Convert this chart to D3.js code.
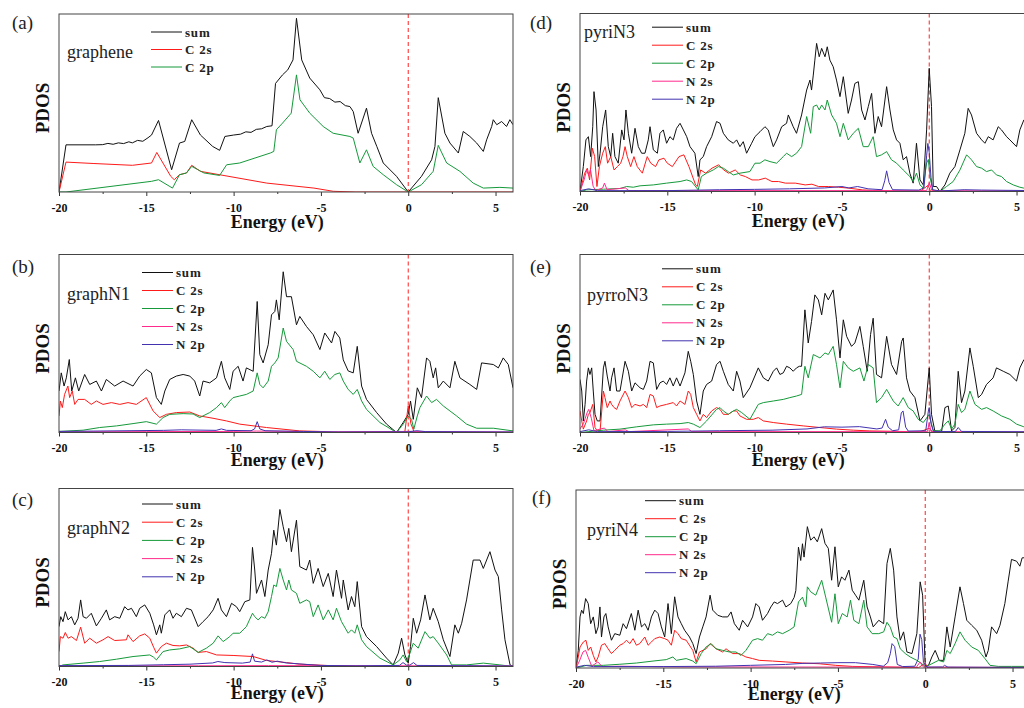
<!DOCTYPE html>
<html>
<head>
<meta charset="utf-8">
<script src="https://cdn.jsdelivr.net/npm/d3@7"></script>
<style>
  body { margin: 0; background: #fff; }
  svg { display: block; }
  text { font-family: "Liberation Serif", "Times New Roman", serif; }
</style>
</head>
<body>
<script>
// energy axis
var energyTicks = [-20, -15, -10, -5, 0, 5];
var minorTicks = [-17.5, -12.5, -7.5, -2.5, 2.5];
var seriesNames = ["sum", "C 2s", "C 2p", "N 2s", "N 2p"];
var seriesColors = ["#111111", "#ff1a1a", "#15993a", "#ff2a8c", "#4232b0"];

// (a) graphene  [energy eV, PDOS in % of panel height]
var aSum = [[-20,0],[-19.6,26.5],[-17.9,26.5],[-17.5,26.6],[-17.2,27.3],[-16.9,26.8],[-16.6,27.6],[-16.3,27.2],[-16.0,28.2],[-15.8,27.6],[-15.5,29],[-15.2,28.5],[-14.9,30.5],[-14.7,32],[-14.3,40.2],[-13.55,12.5],[-13.1,27.5],[-12.8,28.4],[-12.4,40.6],[-11.9,32],[-11.2,25.6],[-10.8,23.4],[-10.5,31.2],[-10.0,32],[-9.6,32.5],[-9.3,33.8],[-9.0,33.5],[-8.7,35.2],[-8.4,35.5],[-8.1,36.8],[-7.8,37.2],[-7.6,61],[-7.2,65.8],[-6.9,68.6],[-6.6,74.2],[-6.4,97.6],[-6.1,74.2],[-5.64,64],[-5.06,57.4],[-4.8,53],[-4.5,52.5],[-4.2,50.5],[-3.9,50.8],[-3.6,48.5],[-3.34,48],[-3.15,45.2],[-2.87,33],[-2.39,47.1],[-2.1,33],[-1.8,25.6],[-1.43,16.3],[-0.67,8.8],[0,0],[0.76,8.8],[1.34,18.1],[1.53,25.6],[1.72,53],[2.1,33],[2.39,27.5],[2.87,21.9],[3.15,34],[3.53,31.2],[3.92,27.5],[4.3,22.8],[4.49,29.3],[4.78,36.8],[4.87,40.6],[5.07,37.8],[5.35,39.6],[5.63,36.8],[5.82,40.6],[6,37.8]];
var aC2s = [[-20,0],[-19.6,16.8],[-18,16],[-15.8,15],[-14.7,16.3],[-14.4,22.2],[-13.6,8.8],[-13.4,6.9],[-13.1,9.7],[-12.7,10.7],[-12.4,15],[-11.9,11.6],[-8.1,5],[-5.4,2.2],[-4.3,0.4],[-3,0],[6,0]];
var aC2p = [[-20,0],[-19.6,0],[-14.7,6],[-14.3,6.9],[-13.5,2.2],[-13.1,9.7],[-12.7,10.7],[-12.4,14.4],[-11.7,10.7],[-10.8,9.3],[-10.4,15.3],[-9.65,16.3],[-7.9,21.9],[-7.7,22.8],[-7.55,35],[-7.2,38.7],[-6.7,44.3],[-6.4,65.8],[-6.2,51.8],[-5.64,44.3],[-4.87,36.8],[-4.3,33],[-3.34,31.2],[-3.15,30.3],[-2.77,16.3],[-2.39,23.7],[-2.01,14.4],[-1.43,9.7],[-0.67,4.1],[0,0],[0.76,4.1],[1.43,11.6],[1.72,26.2],[2.2,16.3],[2.96,11.6],[3.72,5],[4.3,2.2],[5.25,2.6],[6,2.2]];

// (b) graphN1
var bSum = [[-20,23.3],[-19.87,33.5],[-19.71,26.1],[-19.58,30.7],[-19.41,41],[-19.27,23.3],[-19.06,30.7],[-18.87,23.3],[-18.53,32.6],[-18.24,27],[-17.86,28.9],[-17.57,23.3],[-17.29,29.8],[-16.81,26.1],[-16.33,28.9],[-15.76,26.1],[-15.38,31.7],[-15,35.4],[-14.71,33.5],[-14.42,19.6],[-14.14,15.8],[-13.94,23.3],[-13.66,29.8],[-13.28,31.7],[-12.89,32.6],[-12.51,31.7],[-12.23,28.9],[-11.94,20.5],[-11.75,28.9],[-11.37,27.9],[-10.98,30.7],[-10.7,40],[-10.51,30.7],[-10.22,24.2],[-10.03,34.4],[-9.74,37.2],[-9.46,28.9],[-9.27,36.3],[-8.88,34.4],[-8.65,73.6],[-8.5,43.8],[-8.31,39.1],[-8.02,49.3],[-7.83,66.1],[-7.64,68],[-7.55,74.5],[-7.39,63.3],[-7.16,90.3],[-6.97,76.3],[-6.69,76.3],[-6.4,60.5],[-6.21,65.2],[-5.83,59.6],[-5.44,54.9],[-5.06,46.6],[-4.78,55.9],[-4.39,50.3],[-4.2,56.8],[-3.92,53.1],[-3.72,40.8],[-3.44,34.6],[-3.15,33.5],[-2.92,48.4],[-2.67,26.1],[-2.39,18.6],[-1.81,11.2],[-1.24,4.7],[-0.67,0],[-0.29,5.6],[0,10.2],[0.13,17.7],[0.29,7.4],[0.52,25.1],[0.76,19.6],[1.05,41.9],[1.24,40],[1.43,30.7],[1.57,36.3],[1.72,25.1],[2.01,28.9],[2.39,25.1],[2.67,40],[2.96,30.7],[3.53,27],[3.92,24.2],[4.2,39.1],[4.87,38.2],[5.16,36.3],[5.44,41.9],[5.73,38.2],[6,25.1]];
var bC2s = [[-20,9.3],[-19.92,17.7],[-19.81,14],[-19.68,21.4],[-19.49,26.1],[-19.39,19.6],[-19.24,23.3],[-19.1,15.8],[-18.91,18.6],[-18.53,18.6],[-18.15,15.8],[-17.86,17.7],[-17.48,15.8],[-17,16.8],[-16.52,15.8],[-16.05,16.8],[-15.57,15.8],[-15,19.6],[-14.61,12.1],[-14.23,8.4],[-13.85,10.2],[-13.28,11.2],[-12.51,11.5],[-11.94,9.3],[-11.18,8],[-10.41,6.5],[-9.65,4.7],[-8.12,2.8],[-6.21,0.9],[-5.06,0.6],[-4.3,0],[-0.2,0],[0,15],[0.15,5],[0.35,0],[6,0]];
var bC2p = [[-20,0.6],[-18.62,1.3],[-17.67,2.8],[-16.71,3.7],[-15.76,5],[-15,6.1],[-14.42,4.7],[-14.04,8.4],[-13.66,10.2],[-12.89,10.6],[-12.32,10.4],[-11.94,8.4],[-11.37,11.2],[-10.98,14],[-10.7,16.8],[-10.51,14],[-10.22,17.7],[-10.03,19.6],[-9.65,20.5],[-9.27,21.4],[-8.88,23.3],[-8.65,33.5],[-8.5,27],[-8.31,25.1],[-8.02,28.9],[-7.83,37.2],[-7.64,39.1],[-7.45,41.9],[-7.16,58.7],[-6.97,51.2],[-6.59,46.6],[-6.4,40],[-5.83,37.2],[-5.44,34.4],[-5.06,30.7],[-4.78,34.4],[-4.49,29.8],[-4.2,32.6],[-3.92,33.5],[-3.72,28.9],[-3.44,24.2],[-3.15,21.4],[-2.92,24.2],[-2.67,17.7],[-2.39,13],[-1.62,5.6],[-0.67,0],[-0.29,4.7],[0,9.3],[0.19,7.4],[0.32,1.9],[0.52,9.3],[0.67,14],[1.05,20.5],[1.34,16.8],[1.62,18.6],[2.01,14.9],[2.39,12.1],[2.77,9.3],[3.34,4.7],[3.92,2.4],[4.87,2.4],[6,0.9]];
var bN2s = [[-20,0.4],[-15,0.5],[-10,0.6],[-8.7,0.8],[-5,0.4],[0,0.6],[6,0.3]];
var bN2p = [[-20,0.6],[-18,0.8],[-14,1.2],[-13,1.5],[-11,1.2],[-10.7,2],[-10.4,1.2],[-9,1],[-8.8,2],[-8.65,6.1],[-8.5,2],[-8.2,1],[-6,0.6],[-4,0.3],[0,0.4],[0.5,1],[1,0.5],[6,0.3]];

// (c) graphN2
var cSum = [[-20,22.4],[-19.9,28],[-19.77,25.2],[-19.64,30.8],[-19.48,26.2],[-19.29,28],[-19.1,23.4],[-18.91,27.1],[-18.76,37.4],[-18.62,28],[-18.43,27.1],[-18.15,29.9],[-17.86,22.8],[-17.57,27.1],[-17.29,31.8],[-17.1,26.2],[-16.81,28],[-16.52,27.1],[-16.24,33.6],[-16.05,31.8],[-15.85,32.7],[-15.57,28],[-15.38,32.7],[-15.09,34.6],[-14.8,29.9],[-14.58,23.4],[-14.42,17.8],[-14.23,23.4],[-14.14,18.7],[-13.94,29],[-13.66,31.8],[-13.47,27.1],[-13.28,29.9],[-12.99,28],[-12.7,32.7],[-12.42,31.8],[-12.03,22.4],[-11.75,25.2],[-11.46,28],[-11.17,31.8],[-10.89,38.3],[-10.7,31.8],[-10.41,28],[-10.12,35.5],[-9.84,33.6],[-9.65,30.8],[-9.36,36.4],[-9.07,37.4],[-8.92,66.9],[-8.79,54.2],[-8.69,41.1],[-8.4,48.6],[-8.21,39.3],[-8.02,54.2],[-7.83,63.6],[-7.7,76.6],[-7.55,68.2],[-7.35,88.2],[-7.16,78.5],[-6.97,70.1],[-6.84,77.6],[-6.69,64.5],[-6.4,82.2],[-6.21,56.1],[-5.83,54.2],[-5.64,59.8],[-5.44,46.7],[-5.16,55.1],[-4.87,44.9],[-4.58,52.3],[-4.3,39.3],[-4.11,54.2],[-3.82,38.3],[-3.72,48.6],[-3.44,31.8],[-3.25,39.3],[-3.06,33.6],[-2.92,47.7],[-2.67,22.4],[-2.39,16.8],[-1.81,11.2],[-1.24,4.7],[-0.86,0.9],[-0.57,7.5],[-0.38,15.9],[-0.19,6.5],[0,1.9],[0.13,11.2],[0.29,27.1],[0.48,18.7],[0.71,26.2],[0.96,40.2],[1.24,26.2],[1.43,32.7],[1.72,25.2],[2.01,15],[2.39,5.6],[2.67,23.4],[2.87,18.7],[3.06,24.3],[3.34,37.4],[3.72,59.8],[4.11,59.8],[4.3,55.1],[4.68,64.5],[4.97,54.2],[5.16,50.5],[5.35,31.8],[5.54,15],[5.83,0.9],[6,0]];
var cC2s = [[-20,8.4],[-19.92,16.8],[-19.77,15.9],[-19.64,19.1],[-19.48,15.9],[-19.29,16.8],[-19,14.6],[-18.76,22.1],[-18.53,13.1],[-18.24,15.9],[-17.86,13.1],[-17.48,15],[-17.19,16.8],[-16.81,14.6],[-16.14,15],[-16.05,17.8],[-15.76,14],[-15.38,17.2],[-15.09,18.3],[-14.8,15.9],[-14.58,10.8],[-14.42,7.5],[-14.14,11.2],[-13.85,13.1],[-13.47,11.8],[-13.09,11.6],[-12.7,12.1],[-12.32,10.3],[-12.03,7.9],[-11.56,8.4],[-10.98,6.5],[-10.03,6.2],[-8.88,5.6],[-8.12,3.4],[-6.97,2.2],[-6.21,1.3],[-4.3,0.4],[-2.39,0],[6,0]];
var cC2p = [[-20,0],[-19.77,0.9],[-18.62,1.9],[-17.67,2.8],[-16.71,4.1],[-15.76,5.6],[-14.8,6.5],[-14.58,5.2],[-14.42,3.7],[-14.04,8.4],[-13.66,9.3],[-13.09,9.9],[-12.51,11.2],[-12.03,7.9],[-11.56,10.3],[-11.17,13.1],[-10.89,17.2],[-10.6,14],[-10.22,16.8],[-10.03,18.7],[-9.65,18.7],[-9.27,22.4],[-8.92,29.9],[-8.79,28],[-8.6,26.2],[-8.4,28],[-8.21,27.1],[-8.02,30.8],[-7.83,39.3],[-7.7,45.8],[-7.55,44.9],[-7.35,55.1],[-7.16,48.6],[-6.97,43],[-6.84,48.6],[-6.69,43],[-6.4,41.1],[-6.21,35.5],[-5.83,37.4],[-5.64,36.4],[-5.44,28],[-5.16,34.6],[-4.87,26.2],[-4.58,31.8],[-4.3,26.2],[-4.11,32.7],[-3.82,25.2],[-3.44,18.7],[-3.25,20.6],[-3.06,18.7],[-2.92,23.4],[-2.67,15],[-2.39,11.2],[-1.62,4.7],[-0.86,0.9],[-0.48,3.7],[-0.29,6.5],[-0.1,2.8],[0.1,7.5],[0.29,13.1],[0.57,10.3],[0.96,19.6],[1.24,15.9],[1.43,16.8],[1.72,13.1],[2.2,6.5],[2.48,0.9],[3.34,0.9],[4.3,1.9],[5.25,0.9],[6,0]];
var cN2s = [[-20,0.3],[-12,0.4],[-8,0.5],[0,0.4],[6,0.3]];
var cN2p = [[-20,0.5],[-16,0.6],[-14,1],[-12.5,1.3],[-11.2,2],[-10.9,2.8],[-10.5,2.2],[-9.5,1.9],[-9.05,2.5],[-8.92,7.1],[-8.8,3],[-8.4,2.5],[-8.1,3.7],[-7.8,2.4],[-7.5,3],[-7,2],[-5,0.6],[-3,0.4],[-0.5,0.6],[-0.3,2.2],[-0.1,0.8],[0.1,0.8],[0.3,2.2],[0.5,0.6],[6,0.3]];

// (d) pyriN3
var dSum = [[-20,0],[-19.81,14],[-19.66,29],[-19.52,30.8],[-19.39,19.6],[-19.27,36.4],[-19.2,56.1],[-19.08,45.8],[-18.95,14],[-18.85,21.5],[-18.7,36.4],[-18.53,45.8],[-18.38,25.2],[-18.24,19.6],[-18.13,32.7],[-18,19.6],[-17.81,15.9],[-17.61,34.6],[-17.48,29],[-17.37,45.8],[-17.23,32.7],[-17.04,21.5],[-16.85,35.5],[-16.66,25.2],[-16.47,21.5],[-16.28,21.5],[-16.09,29],[-15.99,36.4],[-15.8,23.4],[-15.57,21.5],[-15.42,32.7],[-15.23,34.6],[-15.04,27.1],[-14.85,30.8],[-14.66,29],[-14.47,35.5],[-14.27,38.3],[-14.08,34.6],[-13.89,30.8],[-13.7,25.2],[-13.42,21.5],[-13.23,8.4],[-13.13,17.8],[-12.94,19.6],[-12.75,25.2],[-12.46,30.8],[-12.18,39.3],[-11.98,38.3],[-11.79,32.7],[-11.51,29],[-11.22,27.1],[-11.03,29],[-10.84,25.2],[-10.65,28],[-10.46,21.5],[-10.17,27.1],[-9.98,30.8],[-9.69,33.6],[-9.41,36.4],[-9.22,34.6],[-8.93,25.2],[-8.74,29],[-8.45,36.4],[-8.17,38.3],[-8.07,43],[-7.79,36.4],[-7.6,32.7],[-7.31,43],[-7.02,57],[-6.83,62.6],[-6.74,57],[-6.64,65.4],[-6.55,73.8],[-6.45,83.2],[-6.3,75.7],[-6.16,80.4],[-5.97,75.7],[-5.84,81.3],[-5.69,73.8],[-5.5,70.1],[-5.31,62.6],[-5.11,53.3],[-4.92,64.5],[-4.64,43.9],[-4.45,51.4],[-4.26,60.7],[-4.06,61.7],[-3.87,45.8],[-3.68,40.2],[-3.49,47.7],[-3.3,55.1],[-3.11,32.7],[-2.92,42.1],[-2.73,36.4],[-2.44,58.9],[-2.25,45.8],[-2.06,34.6],[-1.87,29],[-1.68,27.1],[-1.49,17.8],[-1.3,19.6],[-1.11,10.3],[-0.92,4.7],[-0.73,27.1],[-0.53,6.5],[-0.34,3.7],[-0.15,34.6],[0,69.2],[0.13,47.7],[0.23,2.8],[0.42,2.8],[0.61,0],[0.9,3.7],[1.18,10.3],[1.47,14],[1.76,23.4],[2.04,32.7],[2.23,46.7],[2.42,43],[2.71,32.7],[3,29],[3.19,27.1],[3.38,30.8],[3.66,29],[3.95,36.4],[4.14,34.6],[4.43,30.8],[4.62,29],[5,25.2],[5.19,34.6],[5.42,40.2],[5.7,41],[6,38]];
var dC2s = [[-20,0],[-19.73,10.3],[-19.58,13.1],[-19.45,6.5],[-19.29,24.3],[-19.16,19.6],[-19.03,2.8],[-18.89,14],[-18.7,21.5],[-18.55,25.2],[-18.42,15.9],[-18.24,19.6],[-18.05,12.1],[-17.86,14],[-17.67,15.9],[-17.54,19.6],[-17.42,25.2],[-17.29,19.6],[-17.1,14],[-16.91,19.6],[-16.72,14],[-16.43,10.3],[-16.15,19.6],[-15.95,15.9],[-15.67,14],[-15.48,17.8],[-15.19,18.7],[-15,15.9],[-14.71,14],[-14.33,19.6],[-14.05,20.6],[-13.76,14],[-13.38,3.7],[-13.28,2.8],[-13.09,12.1],[-12.81,10.3],[-12.44,13.1],[-12.06,15],[-11.77,12.1],[-11.49,10.3],[-11.11,12.1],[-10.82,9.3],[-10.53,8.4],[-10.15,6.5],[-9.77,6.5],[-9.39,7.5],[-9.01,5.6],[-8.63,5.6],[-8.24,4.7],[-7.67,4.7],[-7.1,3.7],[-6.72,4.1],[-6.34,2.8],[-5.76,2.8],[-5.19,2.4],[-4.62,1.9],[-3.82,0.9],[-3.24,0.6],[-2.48,0.4],[-0.53,0],[-0.06,3.5],[0.08,0],[6,0]];
var dC2p = [[-20,0],[-19.62,0.9],[-18.66,1.3],[-17.71,1.7],[-17.33,2.8],[-16.95,2.4],[-16.56,3.2],[-15.8,3.7],[-15.04,4.7],[-14.27,5.6],[-13.89,6.5],[-13.61,5.6],[-13.23,0.9],[-13.05,8.4],[-12.75,10.3],[-12.37,12.1],[-12.08,14],[-11.79,13.1],[-11.51,11.2],[-11.22,9.3],[-10.84,10.3],[-10.27,11.2],[-9.98,15.9],[-9.69,15.9],[-9.41,17.8],[-9.12,16.8],[-8.74,15.9],[-8.36,19.6],[-8.17,21.5],[-7.88,19.6],[-7.6,21.5],[-7.31,25.2],[-7.02,42.1],[-6.79,32.7],[-6.64,47.7],[-6.45,48.6],[-6.3,45.8],[-6.16,48.6],[-5.97,45.8],[-5.84,51.4],[-5.59,43],[-5.31,38.3],[-5.11,30.8],[-4.92,38.3],[-4.64,29],[-4.35,32.7],[-4.06,35.5],[-3.78,25.2],[-3.49,25.2],[-3.21,30.8],[-3.02,19.6],[-2.73,20.6],[-2.44,22.4],[-2.16,17.8],[-1.87,15.9],[-1.49,12.1],[-1.11,8.4],[-0.92,5.6],[-0.73,10.3],[-0.53,3.7],[-0.35,2],[-0.15,16],[-0.05,18],[0.05,8],[0.2,0.6],[0.61,0],[0.99,2.8],[1.37,5.6],[1.76,12.1],[2.14,20.6],[2.42,17.8],[2.71,14],[3,13.1],[3.28,11.2],[3.57,12.1],[3.85,9.3],[4.14,8.4],[4.43,5.6],[4.81,3.7],[5.19,2.4],[5.42,1.9],[6,1.9]];
var dN2s = [[-20,0],[-19.75,7],[-19.62,12],[-19.5,9],[-19.4,12.5],[-19.25,3],[-19.1,0.5],[-18.7,2],[-18.6,4.7],[-18.45,1],[-17.4,2],[-17.2,0.5],[-0.15,0.5],[0,5],[0.15,0.5],[6,0.3]];
var dN2p = [[-20,0.5],[-19.5,1.5],[-19,0.5],[-15,0.5],[-12,1],[-10,1.2],[-8,1.5],[-6,2],[-5,2.8],[-4.6,2],[-4.1,2.8],[-3.5,1.5],[-2.7,1],[-2.55,6],[-2.44,11.6],[-2.3,5],[-2.1,1],[-0.6,0.8],[-0.3,2],[-0.15,20],[-0.08,27],[0,22],[0.1,8],[0.2,1],[0.6,0.3],[2,1],[3,0.8],[6,0.5]];

// (e) pyrroN3
var eSum = [[-20,29.8],[-19.9,23.3],[-19.81,6.5],[-19.71,15.8],[-19.62,28.9],[-19.52,36.3],[-19.43,32.6],[-19.33,36.3],[-19.24,23.3],[-19.14,10.2],[-19.01,6.5],[-18.85,6.5],[-18.66,36.3],[-18.57,40],[-18.44,31.7],[-18.28,23.3],[-18.19,30.7],[-18.05,36.3],[-17.9,23.3],[-17.71,23.3],[-17.42,40],[-17.23,34.4],[-17.04,23.3],[-16.85,27.9],[-16.56,25.1],[-16.37,24.2],[-16.18,28.9],[-15.99,40],[-15.8,39.1],[-15.61,24.2],[-15.42,27.9],[-15.23,28.9],[-15.04,27],[-14.85,30.7],[-14.66,26.1],[-14.47,30.7],[-14.27,26.1],[-13.99,33.5],[-13.8,45.6],[-13.66,40],[-13.51,32.6],[-13.32,17.7],[-13.13,10.2],[-12.94,23.3],[-12.75,27],[-12.46,28.9],[-12.18,38.2],[-11.98,40],[-11.79,34.4],[-11.51,27],[-11.22,23.3],[-11.03,34.4],[-10.84,28.9],[-10.65,19.6],[-10.27,25.1],[-9.79,36.3],[-9.5,30.7],[-9.22,28.9],[-8.93,34.4],[-8.74,36.3],[-8.55,32.6],[-8.36,33.5],[-8.17,37.2],[-7.98,36.3],[-7.79,34.4],[-7.6,36.3],[-7.44,37.2],[-7.31,37.2],[-7.12,68.9],[-6.93,50.3],[-6.74,62.4],[-6.55,77.3],[-6.35,74.5],[-6.16,66.1],[-5.97,78.2],[-5.78,74.5],[-5.5,80.1],[-5.31,63.3],[-5.11,41.9],[-4.92,63.3],[-4.73,54],[-4.45,48.4],[-4.26,50.3],[-3.97,59.6],[-3.78,48.4],[-3.55,34.4],[-3.36,55],[-3.21,64.2],[-3.02,32.6],[-2.73,30.7],[-2.44,54],[-2.16,38.2],[-1.87,32.6],[-1.58,51.2],[-1.49,53.1],[-1.3,30.7],[-1.11,23.3],[-0.82,19.6],[-0.53,6.5],[-0.25,10.2],[0,36.3],[0.13,10.2],[0.32,0.9],[0.71,0.6],[0.9,14],[1.09,14.9],[1.28,0.9],[1.47,2.8],[1.66,34.4],[1.85,16.8],[2.04,23.3],[2.33,47.5],[2.52,37.2],[2.81,19.6],[3,21.4],[3.28,27],[3.66,30.7],[3.85,36.3],[4.24,34.4],[4.62,32.6],[5,28.9],[5.19,36.3],[5.42,40.9],[5.7,42],[6,38]];
var eC2s = [[-20,12.1],[-19.9,6.5],[-19.81,1.9],[-19.62,6.5],[-19.52,10.2],[-19.43,11.2],[-19.27,15.8],[-19.14,2.8],[-19.01,0.9],[-18.85,0.9],[-18.66,23.3],[-18.57,19.6],[-18.44,14],[-18.28,17.7],[-18.19,15.8],[-18.05,14],[-17.9,13],[-17.71,17.7],[-17.42,23.3],[-17.23,19.6],[-17.04,14],[-16.85,15.8],[-16.56,14.9],[-16.37,15.8],[-16.18,14],[-15.99,21.4],[-15.8,20.5],[-15.61,14],[-15.42,14.9],[-15.04,15.8],[-14.66,16.8],[-14.47,14.9],[-14.27,17.7],[-13.99,15.8],[-13.8,23.3],[-13.66,21.4],[-13.51,14],[-13.32,10.2],[-13.13,6.5],[-12.94,10.2],[-12.75,8.4],[-12.46,12.1],[-12.18,14],[-11.98,13],[-11.79,10.2],[-11.51,10.2],[-11.22,12.1],[-11.03,12.1],[-10.84,9.3],[-10.46,7.4],[-10.08,7.4],[-9.79,8.4],[-9.5,6.5],[-8.93,5.6],[-8.17,4.7],[-7.21,3.7],[-6.26,2.8],[-5.31,1.9],[-4.35,1.3],[-3.4,0.9],[-0.53,0.4],[0,2.4],[0.23,0],[6,0]];
var eC2p = [[-20,0],[-18.66,1.3],[-17.71,1.9],[-16.75,3.2],[-15.8,4.3],[-15.04,4.7],[-14.27,5],[-13.8,5.6],[-13.51,4.7],[-13.13,2.8],[-12.75,6.5],[-12.18,13],[-11.98,14],[-11.79,12.1],[-11.51,10.2],[-11.22,12.1],[-11.03,13],[-10.74,11.2],[-10.27,7.4],[-9.79,15.8],[-9.5,16.8],[-8.93,17.7],[-8.36,18.6],[-7.98,19.6],[-7.6,20.5],[-7.31,21.4],[-7.12,37.2],[-6.93,30.7],[-6.64,43.8],[-6.26,41.9],[-5.97,44.7],[-5.78,43.8],[-5.5,48.4],[-5.31,38.2],[-5.11,25.1],[-4.92,40],[-4.64,36.3],[-4.35,34.4],[-3.97,36.3],[-3.74,28.9],[-3.49,38.2],[-3.21,36.3],[-3.02,16.8],[-2.73,19.6],[-2.44,24.2],[-2.06,17.7],[-1.78,14.9],[-1.49,19.6],[-1.2,14],[-0.92,12.1],[-0.63,7.4],[-0.34,5.6],[0,10.2],[0.23,0.9],[0.61,0.9],[0.9,4.7],[1.09,6.5],[1.28,1.9],[1.47,4.7],[1.66,15.8],[1.85,11.2],[2.04,13],[2.33,23.3],[2.62,15.8],[3,13],[3.28,14],[3.66,12.1],[4.14,9.3],[4.62,7.4],[5,4.7],[5.42,3.2],[6,2.5]];
var eN2s = [[-20,2],[-19.8,5],[-19.6,11],[-19.5,13],[-19.35,8],[-19.2,1],[-18.6,2.5],[-18.4,0.5],[-17.4,1.5],[-17.2,0.5],[-13.8,2],[-13.6,0.5],[-0.1,0.5],[0,5.6],[0.1,0.5],[6,0.3]];
var eN2p = [[-20,0.5],[-19.5,1.5],[-19,0.5],[-15,0.6],[-12,1],[-9,1.3],[-7,2],[-6,3.2],[-5,3],[-4,3.3],[-3,2],[-2.7,2.5],[-2.5,7.4],[-2.35,3],[-2.1,1],[-1.75,1.5],[-1.6,11],[-1.5,12.1],[-1.35,3],[-1.2,0.8],[-0.2,1],[-0.05,12],[0,14],[0.1,5],[0.25,0.5],[1.5,0.6],[1.66,2.8],[1.85,0.6],[6,0.4]];

// (f) pyriN4
var fSum = [[-20,0],[-19.87,9.9],[-19.77,28.7],[-19.68,32.5],[-19.58,30.6],[-19.45,39],[-19.3,36.2],[-19.16,24.9],[-19.01,28.7],[-18.86,19.3],[-18.73,23.1],[-18.63,34.3],[-18.54,17.4],[-18.4,28.7],[-18.29,30.6],[-18.16,23.1],[-17.97,15.6],[-17.78,19.3],[-17.49,18.4],[-17.3,24.9],[-17.11,22.1],[-16.83,30.6],[-16.63,21.2],[-16.44,32.5],[-16.25,23.1],[-16.06,24.9],[-15.87,21.2],[-15.68,28.7],[-15.49,32.5],[-15.3,30.6],[-15.11,23.1],[-14.92,17.4],[-14.73,36.2],[-14.54,19.3],[-14.35,40],[-14.16,28.7],[-13.97,24.9],[-13.78,21.2],[-13.5,17.4],[-13.31,13.7],[-13.12,8.1],[-12.93,17.4],[-12.74,23.1],[-12.55,28.7],[-12.32,40.9],[-12.17,32.5],[-11.88,29.6],[-11.6,28.7],[-11.31,28.7],[-11.12,31.5],[-10.93,24.9],[-10.65,21.2],[-10.46,26.8],[-10.17,23.1],[-9.89,28.7],[-9.7,36.2],[-9.51,34.3],[-9.32,26.8],[-9.03,30.6],[-8.84,34.3],[-8.65,37.1],[-8.46,36.2],[-8.17,38.1],[-7.98,34.3],[-7.7,36.2],[-7.51,39.6],[-7.41,43.5],[-7.26,67.9],[-7.13,60.4],[-7.03,69.8],[-6.94,62.3],[-6.75,79.4],[-6.56,71.8],[-6.37,73.7],[-6.18,70.9],[-5.93,78.3],[-5.74,70],[-5.55,67.2],[-5.36,49.3],[-5.17,68.1],[-4.98,45.6],[-4.79,51.2],[-4.6,49.3],[-4.37,55],[-4.18,43.7],[-3.99,40.9],[-3.8,38.1],[-3.52,49.3],[-3.33,34.3],[-3.14,28.7],[-2.98,23.1],[-2.66,26.8],[-2.38,24.9],[-2.19,58.7],[-2,67.2],[-1.81,55],[-1.62,28.7],[-1.43,15.6],[-1.24,20.3],[-1.05,9],[-0.76,8.1],[-0.48,19.3],[-0.29,48.4],[-0.15,40.9],[0,0.6],[0.19,1.5],[0.38,6.2],[0.57,9.9],[0.8,4.3],[1.05,4.3],[1.24,23.1],[1.43,11.8],[1.71,28.7],[1.99,45.6],[2.19,36.2],[2.38,26.8],[2.66,24],[2.95,21.2],[3.23,15.6],[3.48,6.2],[3.61,9.9],[3.8,23.1],[4.09,19.3],[4.28,24],[4.56,36.2],[4.75,48.8],[4.94,61],[5.23,60],[5.42,57.2],[5.55,61.9],[6,62]];
var fC2s = [[-20,0],[-19.87,6.2],[-19.77,11.8],[-19.58,14.6],[-19.43,15.6],[-19.3,9.9],[-19.16,11.8],[-19.01,7.1],[-18.86,3.4],[-18.73,6.2],[-18.54,12.8],[-18.35,13.7],[-18.16,10.8],[-17.97,8.1],[-17.78,9.9],[-17.49,12.8],[-17.3,13.7],[-17.11,15.6],[-16.92,13.7],[-16.73,16.5],[-16.54,12.8],[-16.35,13.7],[-16.06,17.4],[-15.87,12.8],[-15.68,14.6],[-15.49,16.5],[-15.21,17.4],[-14.92,16.5],[-14.73,15.6],[-14.54,12.8],[-14.35,21.2],[-14.16,19.3],[-13.97,16.5],[-13.69,15.6],[-13.31,9.9],[-13.12,3.4],[-12.93,9],[-12.55,10.8],[-12.32,13.7],[-11.98,10.8],[-11.6,9],[-11.41,10.8],[-11.03,8.1],[-10.65,8.1],[-10.27,6.2],[-9.89,5.3],[-9.51,4.3],[-8.75,3.9],[-7.98,3.4],[-7.03,2.8],[-6.08,2.4],[-5.13,1.5],[-4.18,0.9],[-2.28,0.6],[-0.38,0.2],[0,2.8],[0.15,0],[6,0]];
var fC2p = [[-20,0],[-19.39,1.5],[-18.44,1.5],[-17.49,2.1],[-16.54,2.8],[-15.59,3.9],[-14.83,4.7],[-14.45,6.2],[-14.26,4.3],[-13.69,5.3],[-13.31,3.9],[-13.12,2.4],[-12.83,8.1],[-12.55,11.8],[-12.26,13.7],[-11.98,10.8],[-11.6,9.9],[-11.22,9],[-10.84,9],[-10.55,7.1],[-10.27,9.9],[-9.89,15.6],[-9.6,16.5],[-9.32,15.6],[-9.03,19.3],[-8.75,18.4],[-8.46,20.3],[-8.17,19.3],[-7.79,21.2],[-7.51,23.1],[-7.26,37.1],[-7.03,39.8],[-6.84,34.3],[-6.75,45.6],[-6.56,42.8],[-6.27,40.9],[-5.93,49.3],[-5.7,39.8],[-5.36,25.7],[-5.17,41.7],[-4.98,24.9],[-4.75,30.6],[-4.47,28.7],[-4.28,38.1],[-4.09,26.8],[-3.8,24.9],[-3.52,38.1],[-3.33,23.1],[-3.04,19.3],[-2.66,19.3],[-2.38,20.3],[-2.19,25.7],[-2,22.9],[-1.81,17.4],[-1.62,16.5],[-1.43,10.8],[-1.14,8.1],[-0.86,6.2],[-0.48,4.3],[-0.19,2.4],[0,0.6],[0.38,2.4],[0.76,4.3],[1.05,3.4],[1.24,9.9],[1.43,8.1],[1.71,13.7],[1.99,20.3],[2.28,15.6],[2.66,11.8],[3.04,9.9],[3.42,5.3],[3.71,1.5],[4.18,0.9],[4.94,0.9],[6,0.9]];
var fN2s = [[-20,0],[-19.8,4],[-19.6,9],[-19.45,9.9],[-19.3,6],[-19.1,1],[-18.75,3.4],[-18.5,0.8],[-17.5,1],[-14,0.6],[-0.5,0.5],[-0.3,3.4],[-0.1,0.5],[6,0.3]];
var fN2p = [[-20,0.5],[-19.5,1.5],[-19,0.8],[-15,0.8],[-12,1],[-10,1.5],[-8,2],[-7,2.6],[-6,2.8],[-5,3],[-4,3],[-3,2],[-2.4,1],[-2.15,3],[-2,8],[-1.9,13.7],[-1.75,12],[-1.6,2],[-1.3,0.8],[-0.6,1],[-0.4,5],[-0.3,19],[-0.2,16],[-0.1,3],[0.1,0.5],[1,0.6],[1.1,1.5],[1.3,0.5],[6,0.3]];

// layout of the six panels
var panelW = 454, panelH = 178;
var panels = [
  { tag: "(a)", name: "graphene", left: 59, top: 14, tagX: 12, tagY: 29, nameX: 67, nameY: 58, lx: 92, ly: 18, dy: 17.5, titleY: 228, series: [aSum, aC2s, aC2p] },
  { tag: "(b)", name: "graphN1", left: 59, top: 254.5, tagX: 12, tagY: 273, nameX: 67, nameY: 300, lx: 83, ly: 18, dy: 18, titleY: 466, series: [bSum, bC2s, bC2p, bN2s, bN2p] },
  { tag: "(c)", name: "graphN2", left: 59, top: 488.5, tagX: 12, tagY: 506, nameX: 67, nameY: 534, lx: 83, ly: 15.5, dy: 18.2, titleY: 699, series: [cSum, cC2s, cC2p, cN2s, cN2p] },
  { tag: "(d)", name: "pyriN3", left: 580, top: 13.5, tagX: 530, tagY: 29, nameX: 584, nameY: 38, lx: 72, ly: 13.7, dy: 18, titleY: 227, series: [dSum, dC2s, dC2p, dN2s, dN2p] },
  { tag: "(e)", name: "pyrroN3", left: 580, top: 254.5, tagX: 530, tagY: 273, nameX: 587, nameY: 301, lx: 82, ly: 14.3, dy: 18, titleY: 466, series: [eSum, eC2s, eC2p, eN2s, eN2p] },
  { tag: "(f)", name: "pyriN4", left: 576, top: 490, tagX: 532, tagY: 504, nameX: 587, nameY: 536, lx: 69, ly: 10.7, dy: 18, titleY: 700, series: [fSum, fC2s, fC2p, fN2s, fN2p] }
];

var svg = d3.select("body").append("svg")
  .attr("width", 1024)
  .attr("height", 708);

svg.append("rect").attr("width", 1024).attr("height", 708).attr("fill", "#fff");

panels.forEach(function(p, i) {
  var x = d3.scaleLinear().domain([-20, 6]).range([0, panelW]);
  var y = d3.scaleLinear().domain([0, 100]).range([panelH, 0]);

  var g = svg.append("g").attr("transform", "translate(" + p.left + "," + p.top + ")");

  g.append("clipPath").attr("id", "clip" + i)
    .append("rect").attr("width", panelW).attr("height", panelH + 1).attr("y", -1);

  // axis ticks
  var axis = d3.axisBottom(x).tickValues(energyTicks).tickSize(4).tickPadding(7)
    .tickFormat(function(d) { return String(d); });
  var ax = g.append("g").attr("transform", "translate(0," + panelH + ")").call(axis);
  ax.select(".domain").remove();
  ax.selectAll("line").attr("stroke", "#333");
  ax.selectAll("text")
    .attr("fill", "#111")
    .style("font-family", "'Liberation Serif', serif")
    .style("font-size", "12px")
    .style("font-weight", "bold");

  var minor = g.append("g").attr("transform", "translate(0," + panelH + ")")
    .call(d3.axisBottom(x).tickValues(minorTicks).tickSize(2).tickFormat(""));
  minor.select(".domain").remove();
  minor.selectAll("line").attr("stroke", "#333");

  // fermi level
  g.append("line")
    .attr("x1", x(0)).attr("x2", x(0))
    .attr("y1", 0).attr("y2", panelH)
    .attr("stroke", "#ff2020")
    .attr("stroke-width", 1)
    .attr("stroke-dasharray", "4,3");

  var line = d3.line()
    .x(function(d) { return x(d[0]); })
    .y(function(d) { return y(d[1]); });

  var curves = g.append("g").attr("clip-path", "url(#clip" + i + ")");
  p.series.forEach(function(s, k) {
    curves.append("path")
      .attr("d", line(s))
      .attr("fill", "none")
      .attr("stroke", seriesColors[k])
      .attr("stroke-width", 1)
      .attr("stroke-linejoin", "round");
  });

  // frame
  g.append("rect")
    .attr("width", panelW).attr("height", panelH)
    .attr("fill", "none")
    .attr("stroke", "#444")
    .attr("stroke-width", 1);

  // legend
  var leg = g.append("g").attr("transform", "translate(" + p.lx + "," + p.ly + ")");
  p.series.forEach(function(s, k) {
    leg.append("line")
      .attr("x1", 0).attr("x2", 31)
      .attr("y1", k * p.dy).attr("y2", k * p.dy)
      .attr("stroke", seriesColors[k])
      .attr("stroke-width", 1);
    leg.append("text")
      .attr("x", 34).attr("y", k * p.dy + 4.5)
      .attr("fill", "#222")
      .style("font-size", "13px")
      .style("font-weight", "bold")
      .style("letter-spacing", "0.8px")
      .text(seriesNames[k]);
  });

  // labels
  svg.append("text")
    .attr("x", p.tagX).attr("y", p.tagY)
    .attr("fill", "#222")
    .style("font-size", "19px")
    .text(p.tag);

  svg.append("text")
    .attr("x", p.nameX).attr("y", p.nameY)
    .attr("fill", "#222")
    .style("font-size", "18px")
    .text(p.name);

  svg.append("text")
    .attr("x", p.left + x(-7.5)).attr("y", p.titleY)
    .attr("text-anchor", "middle")
    .attr("textLength", 93)
    .attr("lengthAdjust", "spacingAndGlyphs")
    .attr("fill", "#111")
    .style("font-size", "19px")
    .style("font-weight", "bold")
    .text("Energy (eV)");

  svg.append("text")
    .attr("transform", "translate(" + (p.left - 10) + "," + (p.top + panelH / 2 + 5) + ") rotate(-90)")
    .attr("text-anchor", "middle")
    .attr("fill", "#111")
    .style("font-size", "19px")
    .style("font-weight", "bold")
    .text("PDOS");
});
</script>
</body>
</html>
